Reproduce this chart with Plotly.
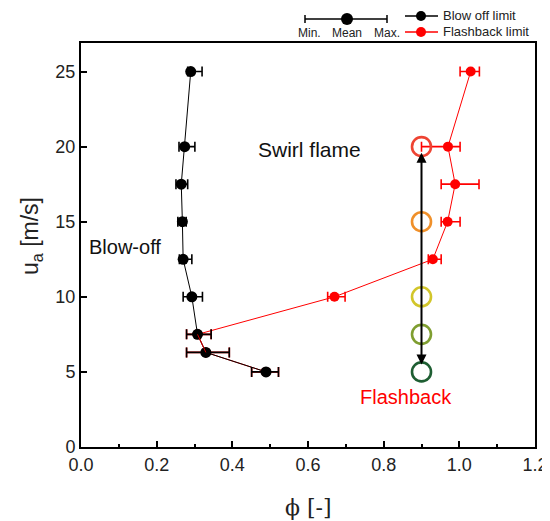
import plotly.graph_objects as go

# Blow-off limit (black)
bo_u = [25, 20, 17.5, 15, 12.5, 10, 7.5, 6.3, 5]
bo_phi = [0.290, 0.274, 0.265, 0.268, 0.270, 0.293, 0.308, 0.330, 0.489]
bo_min = [0.282, 0.259, 0.251, 0.256, 0.260, 0.270, 0.279, 0.279, 0.451]
bo_max = [0.320, 0.301, 0.282, 0.278, 0.293, 0.321, 0.344, 0.392, 0.522]

# Flashback limit (red)
fb_u = [25, 20, 17.5, 15, 12.5, 10, 7.5, 6.3, 5]
fb_phi = [1.030, 0.970, 0.989, 0.969, 0.930, 0.670, 0.308, 0.330, 0.489]
fb_min = [1.002, 0.900, 0.952, 0.952, 0.918, 0.652, 0.279, 0.279, 0.451]
fb_max = [1.053, 1.002, 1.052, 1.002, 0.952, 0.698, 0.344, 0.392, 0.522]

# Operating points (open circles)
op_phi = [0.9, 0.9, 0.9, 0.9, 0.9]
op_u = [20, 15, 10, 7.5, 5]
op_colors = ["#EE4433", "#F0902A", "#D2C62A", "#7F9E30", "#1E5E32"]

x_ticks = [0.0, 0.2, 0.4, 0.6, 0.8, 1.0, 1.2]
y_ticks = [0, 5, 10, 15, 20, 25]

FONT = "Liberation Sans, Arial, sans-serif"

# page has an 8px body margin: work in page pixels and shift
OFF = 8
W, H = 550 - OFF, 521 - OFF
L, R, T, B = 81 - OFF, 535 - OFF, 43 - OFF, 447 - OFF

def px(x):
    return (x - OFF - L) / (R - L)

def py(y):
    return (B - (y - OFF)) / (B - T)

fig = go.Figure()

fig.add_trace(go.Scatter(
    x=fb_phi, y=fb_u, mode="lines+markers",
    line=dict(color="#FF0000", width=1),
    marker=dict(color="#FF0000", size=10),
    error_x=dict(type="data", symmetric=False,
                 array=[a - b for a, b in zip(fb_max, fb_phi)],
                 arrayminus=[b - a for a, b in zip(fb_min, fb_phi)],
                 color="#FF0000", thickness=1.6, width=5),
    showlegend=False, hoverinfo="skip"))

fig.add_trace(go.Scatter(
    x=bo_phi, y=bo_u, mode="lines+markers",
    line=dict(color="#000000", width=1),
    marker=dict(color="#000000", size=11),
    error_x=dict(type="data", symmetric=False,
                 array=[a - b for a, b in zip(bo_max, bo_phi)],
                 arrayminus=[b - a for a, b in zip(bo_min, bo_phi)],
                 color="#000000", thickness=1.6, width=5),
    showlegend=False, hoverinfo="skip"))

# red connection segment between the two lowest-but-one points drawn on top
fig.add_trace(go.Scatter(
    x=fb_phi[6:8], y=fb_u[6:8], mode="lines",
    line=dict(color="rgba(255,0,0,0.8)", width=1),
    showlegend=False, hoverinfo="skip"))

fig.add_trace(go.Scatter(
    x=op_phi, y=op_u, mode="markers",
    marker=dict(size=19, color="rgba(0,0,0,0)",
                line=dict(color=op_colors, width=2.6)),
    showlegend=False, hoverinfo="skip"))

annotations = [
    # double-headed arrow along operating points
    dict(x=op_phi[0], y=op_u[0] - 0.4, ax=op_phi[-1], ay=op_u[-1] + 0.4,
         xref="x", yref="y", axref="x", ayref="y", text="",
         showarrow=True, arrowhead=2, startarrowhead=2, arrowside="end+start",
         arrowsize=1.0, arrowwidth=2, arrowcolor="#000000", standoff=0, startstandoff=0),
    dict(x=0.605, y=19.8, xref="x", yref="y", text="Swirl flame", showarrow=False,
         font=dict(family=FONT, size=21, color="#111111")),
    dict(x=0.116, y=13.3, xref="x", yref="y", text="Blow-off", showarrow=False,
         font=dict(family=FONT, size=20, color="#111111")),
    dict(x=0.859, y=3.3, xref="x", yref="y", text="Flashback", showarrow=False,
         font=dict(family=FONT, size=20, color="#FF0000")),
]

shapes = []
# error bar symbol of the legend
shapes.append(dict(type="line", xref="paper", yref="paper", x0=px(305), x1=px(387), y0=py(19), y1=py(19),
                   line=dict(color="black", width=1.5)))
for xx in (305, 387):
    shapes.append(dict(type="line", xref="paper", yref="paper", x0=px(xx), x1=px(xx), y0=py(15), y1=py(23),
                       line=dict(color="black", width=1.5)))
shapes.append(dict(type="circle", xref="paper", yref="paper", xsizemode="pixel", ysizemode="pixel",
                   xanchor=px(347), yanchor=py(19), x0=-6, x1=6, y0=-6, y1=6,
                   fillcolor="black", line=dict(color="black", width=0)))
for yy, col in ((16, "#000000"), (32, "#FF0000")):
    shapes.append(dict(type="line", xref="paper", yref="paper", x0=px(405), x1=px(438), y0=py(yy), y1=py(yy),
                       line=dict(color=col, width=1.5)))
    shapes.append(dict(type="circle", xref="paper", yref="paper", xsizemode="pixel", ysizemode="pixel",
                       xanchor=px(421), yanchor=py(yy), x0=-5, x1=5, y0=-5, y1=5,
                       fillcolor=col, line=dict(color=col, width=0)))

for txt, xx in (("Min.", 309), ("Mean", 347), ("Max.", 387)):
    annotations.append(dict(x=px(xx), y=py(33), xref="paper", yref="paper", text=txt, showarrow=False,
                            xanchor="center", yanchor="middle",
                            font=dict(family=FONT, size=12, color="#222222")))
for txt, yy in (("Blow off limit", 16), ("Flashback limit", 32)):
    annotations.append(dict(x=px(441), y=py(yy), xref="paper", yref="paper", text=txt, showarrow=False,
                            xanchor="left", yanchor="middle",
                            font=dict(family=FONT, size=13, color="#222222")))

# axis titles
annotations.append(dict(x=px(308), y=py(508), xref="paper", yref="paper", text="\u03d5 [-]",
                        showarrow=False, xanchor="center", yanchor="middle",
                        font=dict(family="DejaVu Serif, serif", size=22, color="#222222")))
annotations.append(dict(x=px(31), y=py(236), xref="paper", yref="paper", text="u<sub>a</sub> [m/s]",
                        showarrow=False, xanchor="center", yanchor="middle", textangle=-90,
                        font=dict(family=FONT, size=23, color="#222222")))

fig.update_layout(
    width=W, height=H,
    margin=dict(l=L, r=W - R, t=T, b=H - B),
    paper_bgcolor="white", plot_bgcolor="white",
    annotations=annotations, shapes=shapes,
    font=dict(family=FONT, color="#222222"),
)

fig.update_xaxes(
    range=[0, 1.2], tickvals=x_ticks, ticktext=[f"{v:.1f}" for v in x_ticks],
    ticks="inside", ticklen=6, tickwidth=1.5, tickcolor="black",
    minor=dict(dtick=0.1, ticks="inside", ticklen=3, tickwidth=1.5, tickcolor="black"),
    showline=True, linecolor="black", linewidth=2, mirror=True,
    showgrid=False, zeroline=False, automargin=False,
    tickfont=dict(family=FONT, size=18, color="#222222"),
)
fig.update_yaxes(
    range=[0, 26.9], tickvals=y_ticks, ticktext=[str(v) for v in y_ticks],
    ticks="inside", ticklen=6, tickwidth=1.5, tickcolor="black",
    showline=True, linecolor="black", linewidth=2, mirror=True,
    showgrid=False, zeroline=False, automargin=False,
    tickfont=dict(family=FONT, size=18, color="#222222"),
)

fig.write_html("out.html")
